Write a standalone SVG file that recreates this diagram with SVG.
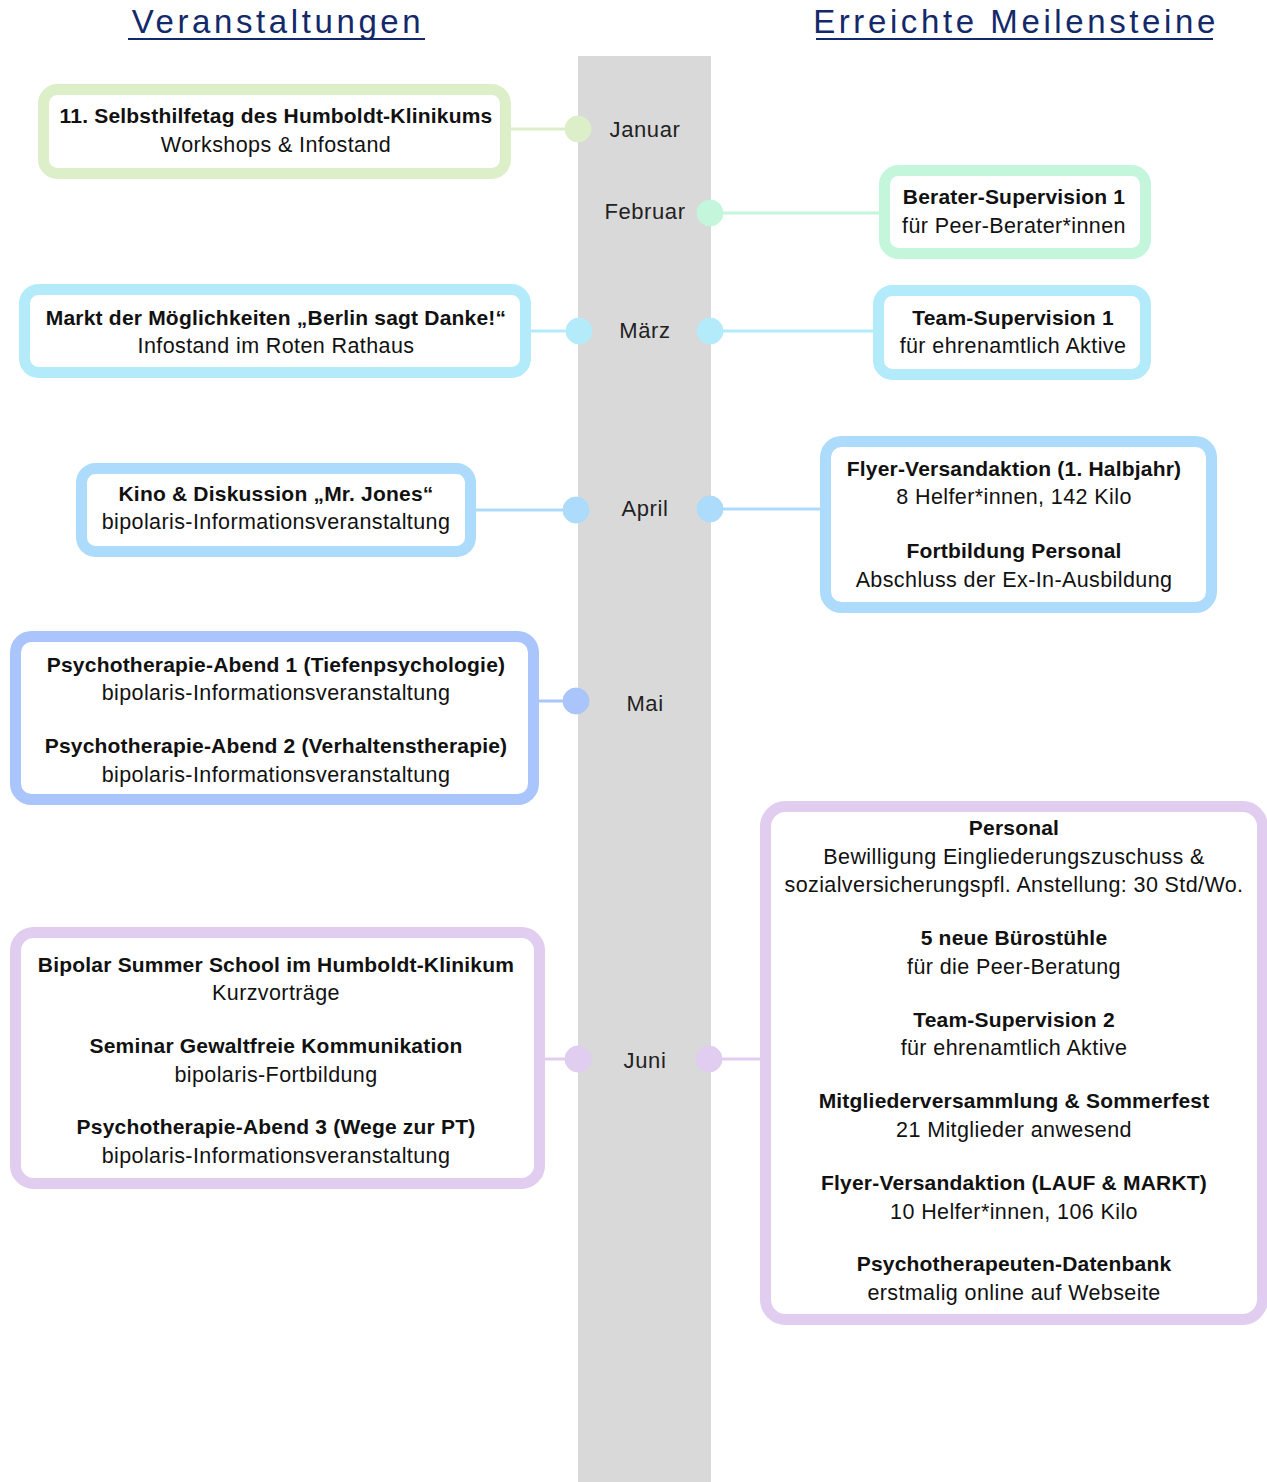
<svg xmlns="http://www.w3.org/2000/svg" width="1267" height="1482" viewBox="0 0 1267 1482">
<style>
text{font-family:"Liberation Sans",Arial,sans-serif;fill:#111;text-anchor:middle}
.t{font-size:33px;fill:#13296a;letter-spacing:3.6px}
.b{font-size:21px;font-weight:bold;letter-spacing:0.2px}
.r{font-size:21.5px;letter-spacing:0.4px}
.m{font-size:22px;fill:#222;letter-spacing:0.6px}
.box{fill:#fff;stroke-width:11}
.c{stroke-width:3;fill:none}
.jan{stroke:#ddefc9;fill:#ddefc9}
.feb{stroke:#c4f6dc;fill:#c4f6dc}
.mar{stroke:#b4ebfb;fill:#b4ebfb}
.apr{stroke:#addbfb;fill:#addbfb}
.mai{stroke:#aac5fb;fill:#aac5fb}
.jun{stroke:#e1cdf0;fill:#e1cdf0}
</style>
<rect width="1267" height="1482" fill="#fff"/>
<rect id="timeline" x="578" y="56" width="133" height="1426" fill="#d9d9d9"/>
<g id="headers">
<text class="t" x="278" y="33">Veranstaltungen</text>
<line x1="128" y1="39" x2="425" y2="39" stroke="#13296a" stroke-width="2"/>
<text class="t" x="1016" y="33">Erreichte Meilensteine</text>
<line x1="816" y1="39" x2="1213" y2="39" stroke="#13296a" stroke-width="2"/>
</g>
<g id="connectors">
<line class="c jan" x1="511" y1="129" x2="570" y2="129"/>
<line class="c feb" x1="718" y1="213" x2="879" y2="213"/>
<line class="c mar" x1="531" y1="331" x2="570" y2="331"/>
<line class="c mar" x1="718" y1="331" x2="873" y2="331"/>
<line class="c apr" x1="476" y1="510" x2="568" y2="510"/>
<line class="c apr" x1="718" y1="509" x2="820" y2="509"/>
<line class="c mai" x1="539" y1="701" x2="568" y2="701"/>
<line class="c jun" x1="545" y1="1059" x2="570" y2="1059"/>
<line class="c jun" x1="717" y1="1059" x2="760" y2="1059"/>
<circle class="jan" cx="578" cy="129" r="13" stroke="none"/>
<circle class="feb" cx="710" cy="213" r="13" stroke="none"/>
<circle class="mar" cx="579" cy="331" r="13" stroke="none"/>
<circle class="mar" cx="710" cy="331" r="13" stroke="none"/>
<circle class="apr" cx="576" cy="510" r="13" stroke="none"/>
<circle class="apr" cx="710" cy="509" r="13" stroke="none"/>
<circle class="mai" cx="576" cy="701" r="13" stroke="none"/>
<circle class="jun" cx="578" cy="1059" r="13" stroke="none"/>
<circle class="jun" cx="709" cy="1059" r="13" stroke="none"/>
</g>
<g id="months">
<text class="m" x="645" y="137">Januar</text>
<text class="m" x="645" y="219">Februar</text>
<text class="m" x="645" y="338">März</text>
<text class="m" x="645" y="516">April</text>
<text class="m" x="645" y="711">Mai</text>
<text class="m" x="645" y="1068">Juni</text>
</g>
<g id="jan-left">
<rect class="box jan" x="43.5" y="89.5" width="462" height="84" rx="14" style="fill:#fff"/>
<text class="b" x="276" y="123">11. Selbsthilfetag des Humboldt-Klinikums</text>
<text class="r" x="276" y="152">Workshops &amp; Infostand</text>
</g>
<g id="feb-right">
<rect class="box feb" x="884.5" y="170.5" width="261" height="83" rx="14" style="fill:#fff"/>
<text class="b" x="1014" y="204">Berater-Supervision 1</text>
<text class="r" x="1014" y="233">für Peer-Berater*innen</text>
</g>
<g id="mar-left">
<rect class="box mar" x="24.5" y="289.5" width="501" height="83" rx="14" style="fill:#fff"/>
<text class="b" x="276" y="325">Markt der Möglichkeiten „Berlin sagt Danke!“</text>
<text class="r" x="276" y="353">Infostand im Roten Rathaus</text>
</g>
<g id="mar-right">
<rect class="box mar" x="878.5" y="290.5" width="267" height="84" rx="14" style="fill:#fff"/>
<text class="b" x="1013" y="325">Team-Supervision 1</text>
<text class="r" x="1013" y="353">für ehrenamtlich Aktive</text>
</g>
<g id="apr-left">
<rect class="box apr" x="81.5" y="468.5" width="389" height="83" rx="14" style="fill:#fff"/>
<text class="b" x="276" y="501">Kino &amp; Diskussion „Mr. Jones“</text>
<text class="r" x="276" y="529">bipolaris-Informationsveranstaltung</text>
</g>
<g id="apr-right">
<rect class="box apr" x="825.5" y="441.5" width="386" height="166" rx="16" style="fill:#fff"/>
<text class="b" x="1014" y="476">Flyer-Versandaktion (1. Halbjahr)</text>
<text class="r" x="1014" y="504">8 Helfer*innen, 142 Kilo</text>
<text class="b" x="1014" y="558">Fortbildung Personal</text>
<text class="r" x="1014" y="587">Abschluss der Ex-In-Ausbildung</text>
</g>
<g id="mai-left">
<rect class="box mai" x="15.5" y="636.5" width="518" height="163" rx="16" style="fill:#fff"/>
<text class="b" x="276" y="672">Psychotherapie-Abend 1 (Tiefenpsychologie)</text>
<text class="r" x="276" y="700">bipolaris-Informationsveranstaltung</text>
<text class="b" x="276" y="753">Psychotherapie-Abend 2 (Verhaltenstherapie)</text>
<text class="r" x="276" y="782">bipolaris-Informationsveranstaltung</text>
</g>
<g id="jun-left">
<rect class="box jun" x="15.5" y="932.5" width="524" height="251" rx="18" style="fill:#fff"/>
<text class="b" x="276" y="972">Bipolar Summer School im Humboldt-Klinikum</text>
<text class="r" x="276" y="1000">Kurzvorträge</text>
<text class="b" x="276" y="1053">Seminar Gewaltfreie Kommunikation</text>
<text class="r" x="276" y="1082">bipolaris-Fortbildung</text>
<text class="b" x="276" y="1134">Psychotherapie-Abend 3 (Wege zur PT)</text>
<text class="r" x="276" y="1163">bipolaris-Informationsveranstaltung</text>
</g>
<g id="jun-right">
<rect class="box jun" x="765.5" y="806.5" width="497" height="513" rx="20" style="fill:#fff"/>
<text class="b" x="1014" y="835">Personal</text>
<text class="r" x="1014" y="864">Bewilligung Eingliederungszuschuss &amp;</text>
<text class="r" x="1014" y="892">sozialversicherungspfl. Anstellung: 30 Std/Wo.</text>
<text class="b" x="1014" y="945">5 neue Bürostühle</text>
<text class="r" x="1014" y="974">für die Peer-Beratung</text>
<text class="b" x="1014" y="1027">Team-Supervision 2</text>
<text class="r" x="1014" y="1055">für ehrenamtlich Aktive</text>
<text class="b" x="1014" y="1108">Mitgliederversammlung &amp; Sommerfest</text>
<text class="r" x="1014" y="1137">21 Mitglieder anwesend</text>
<text class="b" x="1014" y="1190">Flyer-Versandaktion (LAUF &amp; MARKT)</text>
<text class="r" x="1014" y="1219">10 Helfer*innen, 106 Kilo</text>
<text class="b" x="1014" y="1271">Psychotherapeuten-Datenbank</text>
<text class="r" x="1014" y="1300">erstmalig online auf Webseite</text>
</g>
</svg>
